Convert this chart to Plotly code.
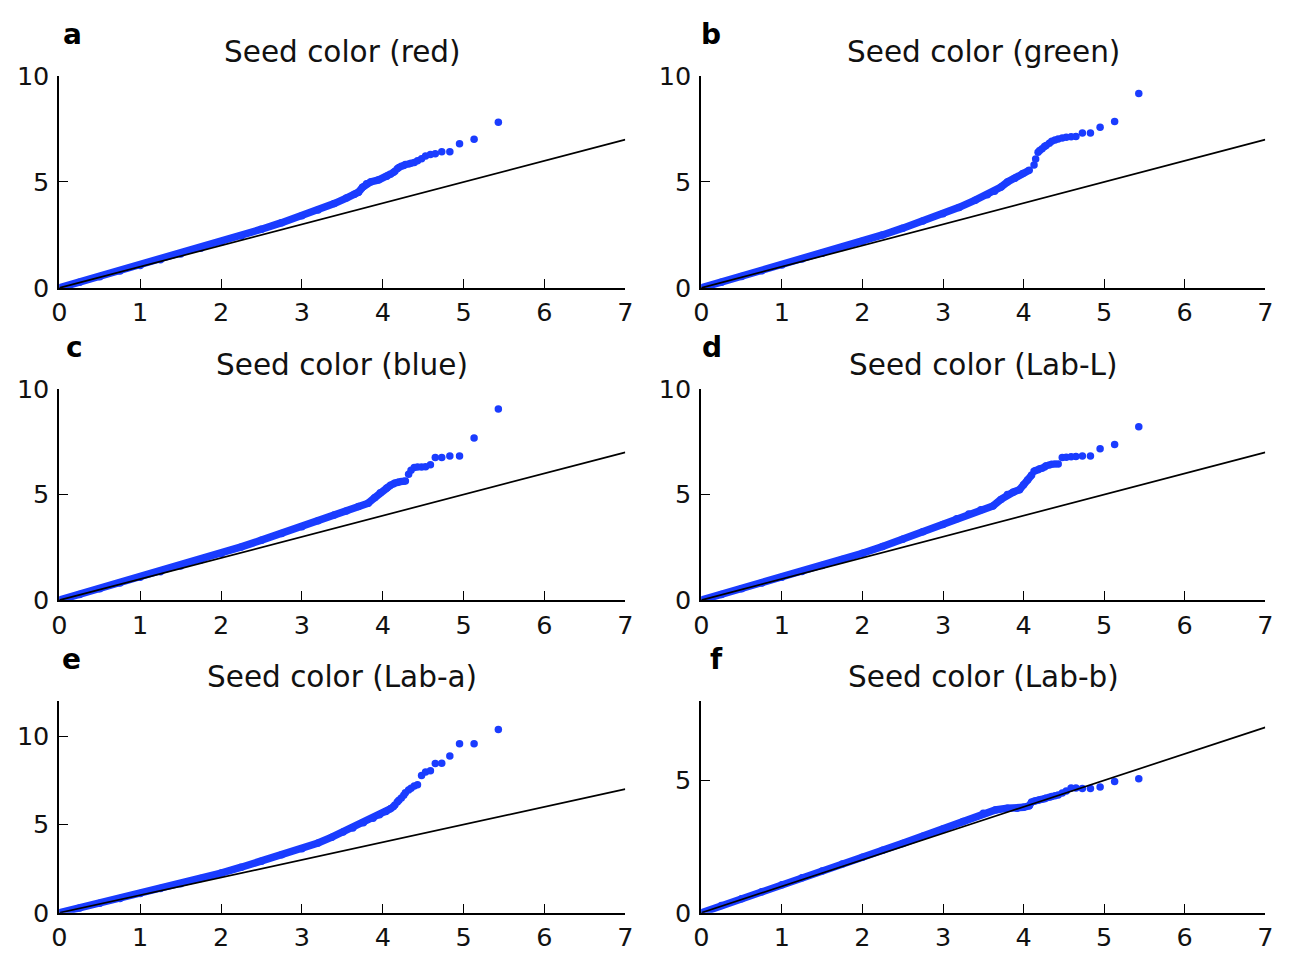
import plotly.graph_objects as go

W, H = 1294, 961

panel_letters = ["a", "b", "c", "d", "e", "f"]
panel_titles = [
    "Seed color (red)", "Seed color (green)", "Seed color (blue)",
    "Seed color (Lab-L)", "Seed color (Lab-a)", "Seed color (Lab-b)",
]

# Expected -log10(p) for the 20 top-ranked markers (shared by all traits)
tail_expected = [4.13, 4.15, 4.18, 4.20, 4.23, 4.26, 4.28, 4.32, 4.35, 4.39,
                 4.43, 4.48, 4.53, 4.59, 4.65, 4.73, 4.83, 4.95, 5.13, 5.43]

# Dense body of each QQ curve (expected, observed)
red_band_x = [0, 0.25, 0.5, 0.75, 1.0, 1.25, 1.5, 1.75, 2.0, 2.25, 2.5, 2.75, 3.0,
              3.2, 3.4, 3.55, 3.65, 3.7, 3.75, 3.8, 3.85, 3.95, 4.05, 4.1]
red_band_y = [0, 0.27, 0.53, 0.80, 1.06, 1.33, 1.60, 1.87, 2.15, 2.45, 2.77, 3.08, 3.40,
              3.68, 3.98, 4.24, 4.42, 4.52, 4.75, 4.92, 5.00, 5.10, 5.27, 5.38]
red_tail_y = [5.45, 5.50, 5.62, 5.68, 5.74, 5.78, 5.82, 5.85, 5.88, 5.92,
              6.00, 6.10, 6.22, 6.30, 6.33, 6.43, 6.43, 6.80, 7.02, 7.82]

green_band_x = [0, 0.25, 0.5, 0.75, 1.0, 1.25, 1.5, 1.75, 2.0, 2.25, 2.5, 2.75, 3.0,
                3.2, 3.4, 3.55, 3.64, 3.72, 3.8, 3.89, 3.99, 4.07]
green_band_y = [0, 0.27, 0.54, 0.81, 1.08, 1.36, 1.63, 1.91, 2.20, 2.50, 2.82, 3.16, 3.50,
                3.80, 4.14, 4.40, 4.56, 4.76, 5.00, 5.17, 5.40, 5.55]
green_tail_y = [5.80, 6.08, 6.40, 6.48, 6.57, 6.67, 6.72, 6.83, 6.92, 6.98,
                7.03, 7.08, 7.11, 7.13, 7.15, 7.31, 7.31, 7.58, 7.85, 9.18]

blue_band_x = [0, 0.25, 0.5, 0.75, 1.0, 1.25, 1.5, 1.75, 2.0, 2.25, 2.5, 2.75, 3.0,
               3.2, 3.4, 3.55, 3.7, 3.82, 3.9, 3.97, 4.05, 4.1]
blue_band_y = [0, 0.27, 0.54, 0.81, 1.08, 1.35, 1.62, 1.90, 2.20, 2.52, 2.84, 3.16, 3.47,
               3.76, 4.03, 4.22, 4.43, 4.59, 4.85, 5.08, 5.31, 5.45]
blue_tail_y = [5.50, 5.55, 5.57, 5.60, 5.62, 5.63, 5.64, 5.96, 6.15, 6.28,
               6.30, 6.30, 6.32, 6.41, 6.76, 6.76, 6.83, 6.83, 7.68, 9.05]

labL_band_x = [0, 0.25, 0.5, 0.75, 1.0, 1.25, 1.5, 1.75, 2.0, 2.25, 2.5, 2.75, 3.0,
               3.17, 3.32, 3.47, 3.62, 3.72, 3.8, 3.87, 3.95, 4.0, 4.05, 4.1]
labL_band_y = [0, 0.27, 0.54, 0.81, 1.08, 1.36, 1.64, 1.92, 2.22, 2.54, 2.88, 3.24, 3.58,
               3.85, 4.08, 4.28, 4.46, 4.77, 5.00, 5.11, 5.23, 5.46, 5.69, 5.92]
labL_tail_y = [6.10, 6.14, 6.18, 6.22, 6.25, 6.30, 6.36, 6.40, 6.43, 6.45,
               6.45, 6.76, 6.77, 6.79, 6.80, 6.83, 6.83, 7.17, 7.37, 8.21]

laba_band_x = [0, 0.25, 0.5, 0.75, 1.0, 1.25, 1.5, 1.75, 2.0, 2.25, 2.5, 2.75, 3.0,
               3.2, 3.37, 3.51, 3.63, 3.76, 3.88, 3.96, 4.04, 4.1]
laba_band_y = [0, 0.27, 0.54, 0.81, 1.09, 1.37, 1.65, 1.94, 2.25, 2.58, 2.92, 3.28, 3.63,
               3.95, 4.28, 4.58, 4.80, 5.10, 5.36, 5.55, 5.73, 5.90]
laba_tail_y = [6.00, 6.10, 6.27, 6.38, 6.50, 6.65, 6.80, 6.95, 7.05, 7.18,
               7.25, 7.78, 7.98, 8.05, 8.45, 8.47, 8.88, 9.58, 9.58, 10.38]

labb_band_x = [0, 0.25, 0.5, 0.75, 1.0, 1.25, 1.5, 1.75, 2.0, 2.25, 2.5, 2.75, 3.0,
               3.25, 3.5, 3.65, 3.8, 3.92, 4.0, 4.07, 4.1]
labb_band_y = [0, 0.27, 0.53, 0.79, 1.06, 1.32, 1.58, 1.84, 2.10, 2.36, 2.62, 2.89, 3.16,
               3.45, 3.76, 3.88, 3.95, 3.95, 3.98, 4.04, 4.18]
labb_tail_y = [4.21, 4.23, 4.25, 4.27, 4.29, 4.31, 4.33, 4.36, 4.39, 4.42,
               4.45, 4.52, 4.60, 4.71, 4.71, 4.69, 4.69, 4.75, 4.96, 5.06]

band_x = [red_band_x, green_band_x, blue_band_x, labL_band_x, laba_band_x, labb_band_x]
band_y = [red_band_y, green_band_y, blue_band_y, labL_band_y, laba_band_y, labb_band_y]
tail_y = [red_tail_y, green_tail_y, blue_tail_y, labL_tail_y, laba_tail_y, labb_tail_y]

# Null expectation line
diag_x = [0, 7]
diag_y = [0, 7]

y_ranges = [[0, 10], [0, 10], [0, 10], [0, 10], [0, 12], [0, 8]]
y_ticks = [[0, 5, 10], [0, 5, 10], [0, 5, 10], [0, 5, 10], [0, 5, 10], [0, 5]]
x_ticks = [0, 1, 2, 3, 4, 5, 6, 7]

# Panel frames in pixels: (left, right) per column, (top, bottom) per row
col_px = [(52, 625), (702, 1273)]
row_px = [(63, 281.7), (386, 604), (708, 926.7)]
# horizontal nudge of each panel letter from its frame's left edge
letter_dx = [2, -2, 5, -1, 1, 7]

DOT = "#1a3cff"
FONT = "DejaVu Sans"

fig = go.Figure()
annotations = []

for i in range(6):
    r, c = divmod(i, 2)
    n = i + 1
    xa = "x" if n == 1 else f"x{n}"
    ya = "y" if n == 1 else f"y{n}"
    left, right = col_px[c]
    top, bottom = row_px[r]
    xdom = [left / W, right / W]
    ydom = [1 - bottom / H, 1 - top / H]

    fig.add_trace(go.Scatter(
        x=band_x[i], y=band_y[i], mode="lines+markers", xaxis=xa, yaxis=ya,
        line=dict(color=DOT, width=7.5), marker=dict(color=DOT, size=7.5),
        showlegend=False, hoverinfo="skip"))
    fig.add_trace(go.Scatter(
        x=tail_expected, y=tail_y[i], mode="markers", xaxis=xa, yaxis=ya,
        marker=dict(color=DOT, size=7.5), showlegend=False))
    fig.add_trace(go.Scatter(
        x=diag_x, y=diag_y, mode="lines", xaxis=xa, yaxis=ya,
        line=dict(color="black", width=1.7), showlegend=False, hoverinfo="skip"))

    axis_common = dict(
        showline=True, linecolor="black", linewidth=1.8,
        ticks="inside", ticklen=9, tickwidth=1.3, tickcolor="black",
        showgrid=False, zeroline=False,
        tickfont=dict(family=FONT, size=25.5, color="#111111"),
    )
    fig.layout[f"xaxis{'' if n == 1 else n}"] = dict(
        axis_common, domain=xdom, range=[0, 7], tickvals=x_ticks,
        anchor=ya, ticklabelstandoff=1)
    fig.layout[f"yaxis{'' if n == 1 else n}"] = dict(
        axis_common, domain=ydom, range=y_ranges[i], tickvals=y_ticks[i],
        anchor=xa, ticklabelstandoff=3)

    # trait title, centred above the frame
    annotations.append(dict(
        text=panel_titles[i], xref="paper", yref="paper",
        x=(left + right) / 2 / W, y=1 - (top - 4.8) / H,
        xanchor="center", yanchor="bottom", showarrow=False,
        font=dict(family=FONT, size=29.5, color="#111111")))
    # panel letter
    annotations.append(dict(
        text=f"<b>{panel_letters[i]}</b>", xref="paper", yref="paper",
        x=(left + letter_dx[i]) / W, y=1 - (top - 23.5) / H,
        xanchor="left", yanchor="bottom", showarrow=False,
        font=dict(family=FONT, size=28, color="black")))

fig.update_layout(
    width=W, height=H, autosize=False,
    margin=dict(l=0, r=0, t=0, b=0),
    paper_bgcolor="white", plot_bgcolor="white",
    annotations=annotations,
)

fig.write_html("out.html")
